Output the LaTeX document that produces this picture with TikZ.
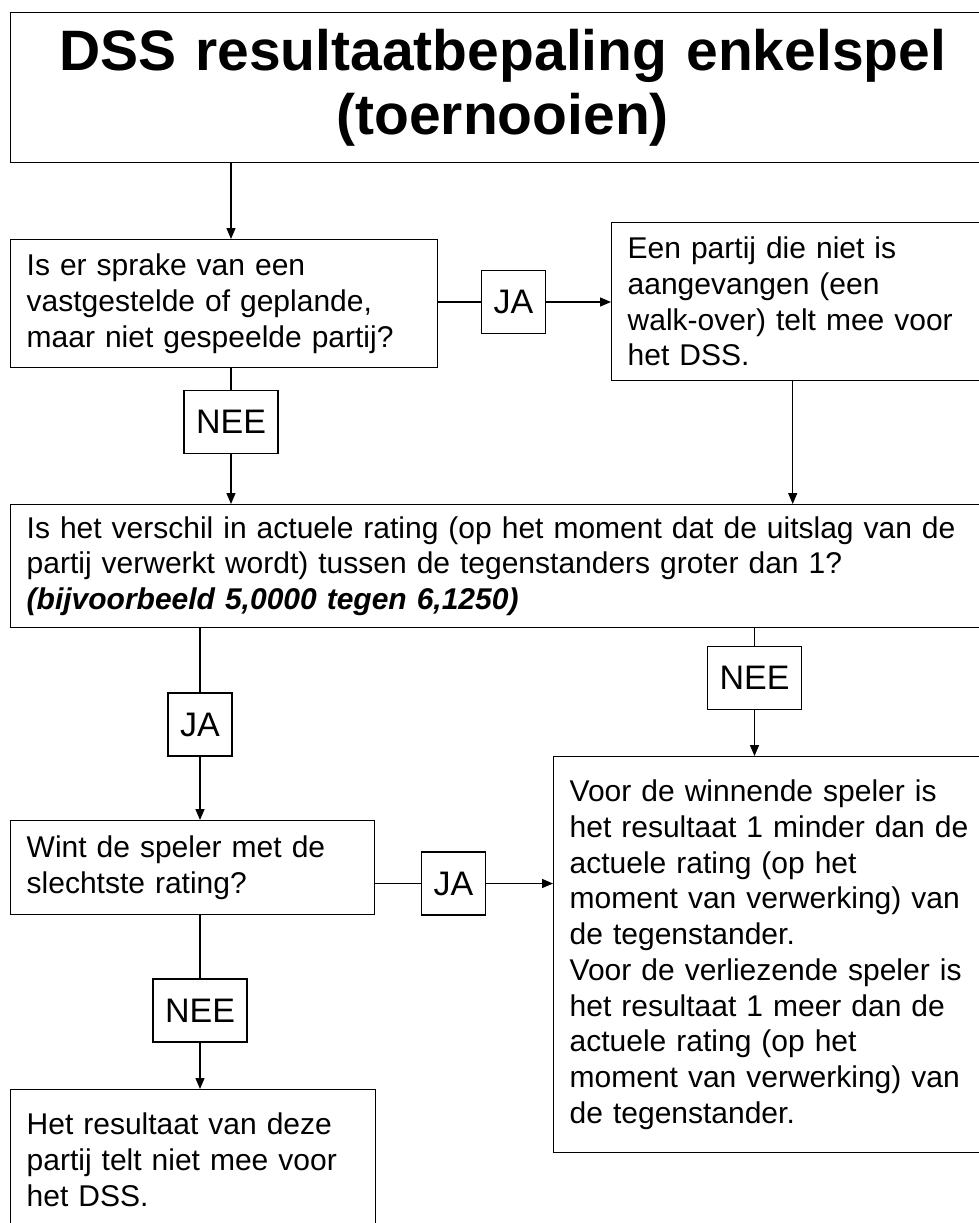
\documentclass[tikz,border=0pt]{standalone}
\usepackage{fontspec}
\setmainfont{Liberation Sans}
\usetikzlibrary{arrows.meta}

\begin{document}
\begin{tikzpicture}[x=1pt, y=-1pt, line width=1.4pt,
    blok/.style={draw, rectangle, anchor=north west, align=left, inner xsep=16pt, inner ysep=0pt,
        text width=#1, font=\fontsize{30pt}{35.7pt}\selectfont},
    keuze/.style={draw, rectangle, fill=white, minimum height=63pt, inner xsep=12pt, inner ysep=0pt,
        font=\fontsize{34pt}{40pt}\selectfont},
    pijl/.style={-{Triangle[length=11pt, width=9pt]}}]
        \useasboundingbox (0,0) rectangle (979,1223);

        % Titel
        \node[blok=952pt, align=center, minimum height=150pt, font=\fontsize{57pt}{64pt}\selectfont\bfseries]
            (titel) at (10,12) {DSS resultaatbepaling enkelspel\\(toernooien)};

        % Vragen en uitkomsten
        \node[blok=395pt, minimum height=128pt] (vraag1) at (10,239)
            {Is er sprake van een\\vastgestelde of geplande,\\maar niet gespeelde partij?};
        \node[blok=380pt, minimum height=158pt] (walkover) at (611,222)
            {Een partij die niet is\\aangevangen (een\\walk-over) telt mee voor\\het DSS.};
        \node[blok=990pt, minimum height=123pt] (vraag2) at (10,504)
            {Is het verschil in actuele rating (op het moment dat de uitslag van de\\partij verwerkt wordt) tussen de tegenstanders groter dan 1?\\\textbf{\textit{(bijvoorbeeld 5,0000 tegen 6,1250)}}};
        \node[blok=332pt, minimum height=94pt] (vraag3) at (10,820)
            {Wint de speler met de\\slechtste rating?};
        \node[blok=430pt, minimum height=396pt] (resultaat) at (553,756)
            {Voor de winnende speler is\\het resultaat 1 minder dan de\\actuele rating (op het\\moment van verwerking) van\\de tegenstander.\\Voor de verliezende speler is\\het resultaat 1 meer dan de\\actuele rating (op het\\moment van verwerking) van\\de tegenstander.};
        \node[blok=333pt, minimum height=140pt] (telniet) at (10,1089)
            {Het resultaat van deze\\partij telt niet mee voor\\het DSS.};

        % JA / NEE labels
        \node[keuze] (ja1) at (513.5,302) {JA};
        \node[keuze] (nee1) at (231,422) {NEE};
        \node[keuze] (ja2) at (200,724.5) {JA};
        \node[keuze] (nee2) at (754.5,678) {NEE};
        \node[keuze] (ja3) at (453.5,883.5) {JA};
        \node[keuze] (nee3) at (200,1010.5) {NEE};

        % Verbindingen
        \draw[pijl] (nee1 |- titel.south) -- (nee1 |- vraag1.north);
        \draw (ja1 -| vraag1.east) -- (ja1.west);
        \draw[pijl] (ja1.east) -- (ja1 -| walkover.west);
        \draw (nee1 |- vraag1.south) -- (nee1.north);
        \draw[pijl] (nee1.south) -- (nee1 |- vraag2.north);
        \draw[pijl] ([xshift=-25pt]walkover.south) -- ([xshift=-25pt]walkover.south |- vraag2.north);
        \draw (ja2 |- vraag2.south) -- (ja2.north);
        \draw[pijl] (ja2.south) -- (ja2 |- vraag3.north);
        \draw (nee2 |- vraag2.south) -- (nee2.north);
        \draw[pijl] (nee2.south) -- (nee2 |- resultaat.north);
        \draw (ja3 -| vraag3.east) -- (ja3.west);
        \draw[pijl] (ja3.east) -- (ja3 -| resultaat.west);
        \draw (nee3 |- vraag3.south) -- (nee3.north);
        \draw[pijl] (nee3.south) -- (nee3 |- telniet.north);
\end{tikzpicture}
\end{document}
